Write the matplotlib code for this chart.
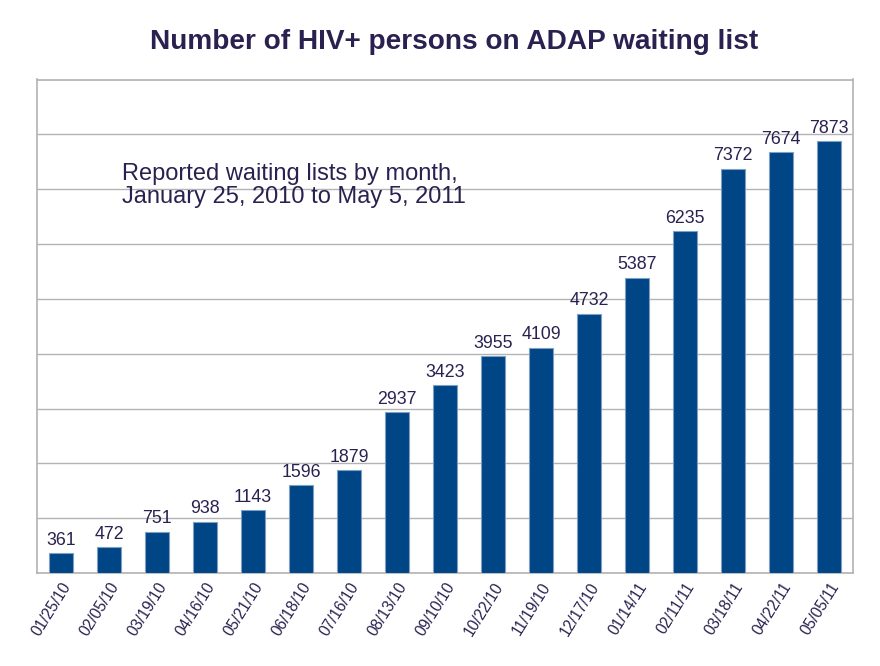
import matplotlib
matplotlib.use("Agg")
import matplotlib.pyplot as plt

# data
DATES = ["01/25/10", "02/05/10", "03/19/10", "04/16/10", "05/21/10", "06/18/10",
         "07/16/10", "08/13/10", "09/10/10", "10/22/10", "11/19/10", "12/17/10",
         "01/14/11", "02/11/11", "03/18/11", "04/22/11", "05/05/11"]
WAITING = [361, 472, 751, 938, 1143, 1596, 1879, 2937, 3423, 3955, 4109, 4732,
           5387, 6235, 7372, 7674, 7873]

TITLE = "Number of HIV+ persons on ADAP waiting list"
NOTE = "Reported waiting lists by month,\nJanuary 25, 2010 to May 5, 2011"

BAR_COLOR = "#004586"
TEXT_COLOR = "#2a2150"
GRID_COLOR = "#b3b3b3"

plt.rcParams["font.family"] = ["Liberation Sans", "DejaVu Sans"]

fig = plt.figure(figsize=(8.8, 6.66), dpi=100)
ax = fig.add_axes([37 / 880, 1 - 573 / 666, 816 / 880, 493.5 / 666])

x = list(range(len(DATES)))
ax.bar(x, WAITING, width=0.5, color=BAR_COLOR, edgecolor="#7f9fc4", linewidth=0.8, zorder=3)

for xi, v in zip(x, WAITING):
    ax.text(xi, v + 80, str(v), ha="center", va="bottom", fontsize=12.8, color=TEXT_COLOR)

ax.set_xlim(-0.5, len(DATES) - 0.5)
ax.set_ylim(0, 9000)
ax.set_yticks(range(0, 9001, 1000))
ax.set_yticklabels([])
ax.tick_params(axis="y", length=0)
ax.tick_params(axis="x", length=0, pad=5)
ax.set_xticks(x)
ax.set_xticklabels(DATES, rotation=58, ha="right", rotation_mode="anchor",
                   fontsize=11.2, color=TEXT_COLOR)
ax.grid(axis="y", color=GRID_COLOR, linewidth=1, zorder=0)
for s in ax.spines.values():
    s.set_color(GRID_COLOR)
    s.set_linewidth(1.2)

fig.text(454 / 880, 1 - 42 / 666, TITLE, ha="center", va="center", fontsize=20.2,
         fontweight="bold", color=TEXT_COLOR)
fig.text(122 / 880, 1 - 163 / 666, NOTE, ha="left", va="top", fontsize=17,
         color=TEXT_COLOR, linespacing=1.05)

fig.savefig("out.png", dpi=100)
